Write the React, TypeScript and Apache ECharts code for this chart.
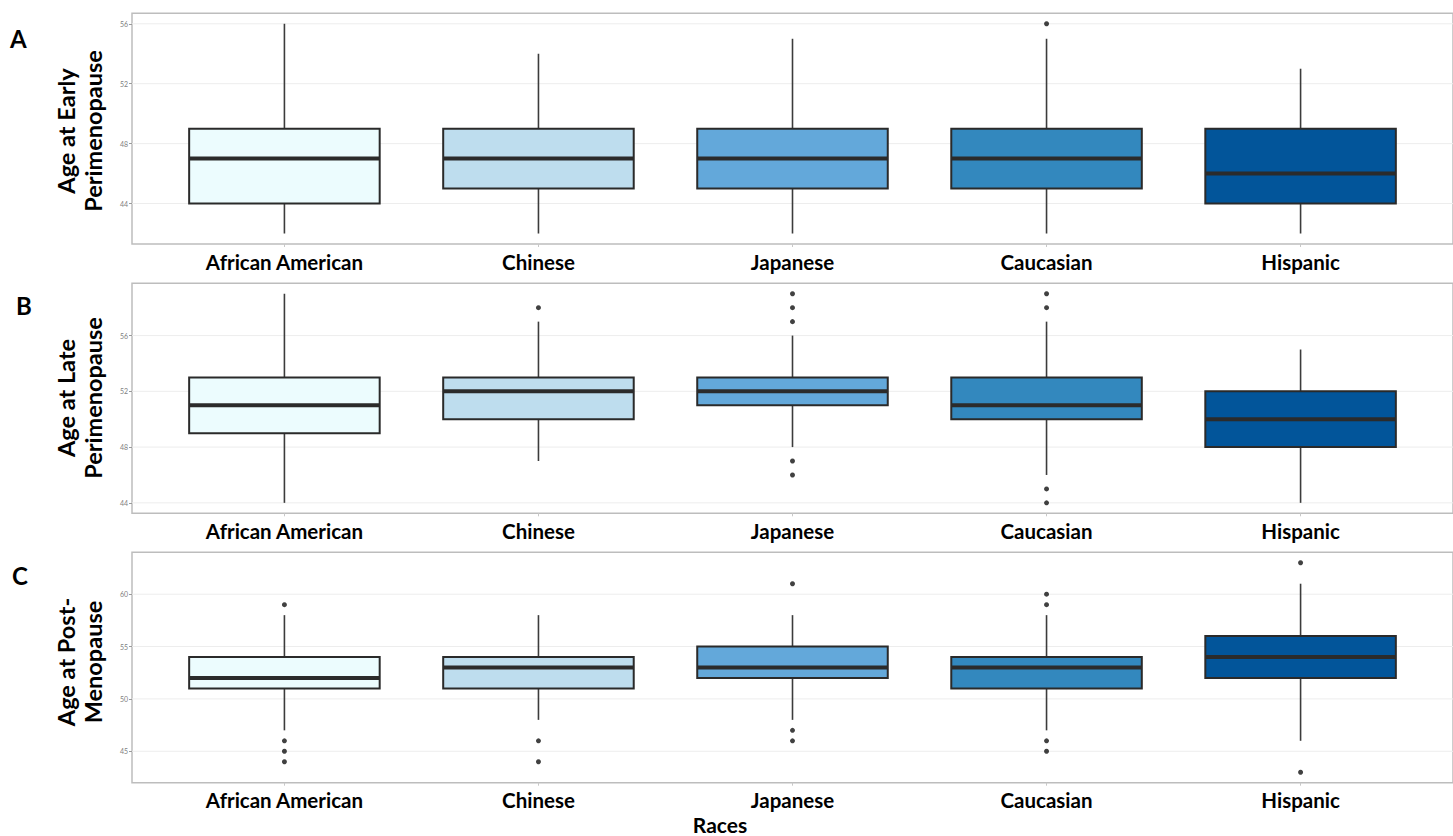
import React, { useEffect, useRef } from "react";
import * as echarts from "echarts";

const races = ["African American", "Chinese", "Japanese", "Caucasian", "Hispanic"];
const boxColors = ["#ECFCFE", "#BEDDEE", "#63A8DA", "#3388BE", "#02559A"];

// each box: [lowerWhisker, q1, median, q3, upperWhisker]
const earlyBoxes = [
  [42, 44, 47, 49, 56],
  [42, 45, 47, 49, 54],
  [42, 45, 47, 49, 55],
  [42, 45, 47, 49, 55],
  [42, 44, 46, 49, 53],
];
// outliers: [raceNumber (1-based), age]
const earlyOutliers = [[4, 56]];

const lateBoxes = [
  [44, 49, 51, 53, 59],
  [47, 50, 52, 53, 57],
  [48, 51, 52, 53, 56],
  [46, 50, 51, 53, 57],
  [44, 48, 50, 52, 55],
];
const lateOutliers = [
  [2, 58],
  [3, 59], [3, 58], [3, 57], [3, 47], [3, 46],
  [4, 59], [4, 58], [4, 45], [4, 44],
];

const postBoxes = [
  [47, 51, 52, 54, 58],
  [48, 51, 53, 54, 58],
  [48, 52, 53, 55, 58],
  [47, 51, 53, 54, 58],
  [46, 52, 54, 56, 61],
];
const postOutliers = [
  [1, 59], [1, 46], [1, 45], [1, 44],
  [2, 46], [2, 44],
  [3, 61], [3, 47], [3, 46],
  [4, 60], [4, 59], [4, 46], [4, 45],
  [5, 63], [5, 43],
];

const earlyTicks = [44, 48, 52, 56];
const lateTicks = [44, 48, 52, 56];
const postTicks = [45, 50, 55, 60];

const yTitles = ["Age at Early\nPerimenopause", "Age at Late\nPerimenopause", "Age at Post-\nMenopause"];
const panelLetters = ["A", "B", "C"];
const xTitle = "Races";

const FONT = 'Lato, "Open Sans", "DejaVu Sans", sans-serif';

const panels = [
  { boxes: earlyBoxes, outliers: earlyOutliers, ticks: earlyTicks, min: 41.3, max: 56.7, top: 13.3, height: 230.7, titleY: 131, letterY: 38, letterX: 10 },
  { boxes: lateBoxes, outliers: lateOutliers, ticks: lateTicks, min: 43.25, max: 59.75, top: 283.3, height: 230, titleY: 398, letterY: 305, letterX: 16 },
  { boxes: postBoxes, outliers: postOutliers, ticks: postTicks, min: 42, max: 64, top: 552.3, height: 230.4, titleY: 662, letterY: 575, letterX: 12 },
];

const GRID_LEFT = 132;
const UNIT = 255.5;

export default function App() {
  const ref = useRef<HTMLDivElement>(null);
  useEffect(() => {
    if (!ref.current) return;
    const chart = echarts.init(ref.current, null, { renderer: "svg" });
    const grids: any[] = [];
    const xAxes: any[] = [];
    const yAxes: any[] = [];
    const series: any[] = [];
    const graphics: any[] = [];
    const catValues = races.map((_, i) => i + 1);

    panels.forEach((p, k) => {
      grids.push({
        left: GRID_LEFT,
        top: p.top,
        width: UNIT * 5.2,
        height: p.height,
        show: true,
        borderColor: "#BDBDBD",
        borderWidth: 1.5,
        backgroundColor: "transparent",
      });
      xAxes.push({
        type: "value",
        gridIndex: k,
        min: 0.4,
        max: 5.6,
        axisLine: { show: false },
        splitLine: { show: false },
        axisTick: { show: true, customValues: catValues, length: 3, lineStyle: { color: "#C8C8C8" } },
        axisLabel: {
          customValues: catValues,
          formatter: (v: number) => races[Math.round(v) - 1] || "",
          fontSize: 20.5,
          fontWeight: "bold",
          color: "#000",
          fontFamily: FONT,
          margin: 7,
        },
      });
      yAxes.push({
        type: "value",
        gridIndex: k,
        min: p.min,
        max: p.max,
        axisLine: { show: false },
        splitLine: { show: false },
        axisTick: { show: true, customValues: p.ticks, length: 3, lineStyle: { color: "#9A9A9A" } },
        axisLabel: { customValues: p.ticks, fontSize: 7, color: "#808080", margin: 4, fontFamily: FONT },
      });
      // horizontal grid lines (under the boxes)
      series.push({
        type: "custom",
        xAxisIndex: k,
        yAxisIndex: k,
        z: 1,
        silent: true,
        encode: { x: 0, y: 1 },
        data: p.ticks.map((t) => [0.4, t]),
        renderItem: (_params: any, api: any) => {
          const a = api.coord([0.4, api.value(1)]);
          const b = api.coord([5.6, api.value(1)]);
          return {
            type: "line",
            shape: { x1: a[0], y1: a[1], x2: b[0], y2: b[1] },
            style: { stroke: "#EDEDED", lineWidth: 1 },
          };
        },
      });
      series.push({
        type: "custom",
        xAxisIndex: k,
        yAxisIndex: k,
        z: 2,
        encode: { x: 0, y: [1, 2, 3, 4, 5] },
        data: p.boxes.map((b, i) => [i + 1, ...b]),
        renderItem: (params: any, api: any) => {
          const x = api.value(0);
          const pLw = api.coord([x, api.value(1)]);
          const pQ1 = api.coord([x, api.value(2)]);
          const pMed = api.coord([x, api.value(3)]);
          const pQ3 = api.coord([x, api.value(4)]);
          const pUw = api.coord([x, api.value(5)]);
          const half = api.size([0.75, 0])[0] / 2;
          const cx = pLw[0];
          const whisker = { stroke: "#3C3C3C", lineWidth: 1.6 };
          return {
            type: "group",
            children: [
              { type: "line", shape: { x1: cx, y1: pUw[1], x2: cx, y2: pQ3[1] }, style: whisker },
              { type: "line", shape: { x1: cx, y1: pQ1[1], x2: cx, y2: pLw[1] }, style: whisker },
              {
                type: "rect",
                shape: { x: cx - half, y: pQ3[1], width: half * 2, height: pQ1[1] - pQ3[1] },
                style: { fill: boxColors[params.dataIndex], stroke: "#2A2A2A", lineWidth: 2 },
              },
              {
                type: "line",
                shape: { x1: cx - half, y1: pMed[1], x2: cx + half, y2: pMed[1] },
                style: { stroke: "#2B2B2B", lineWidth: 4 },
              },
            ],
          };
        },
      });
      series.push({
        type: "scatter",
        xAxisIndex: k,
        yAxisIndex: k,
        z: 3,
        symbolSize: 5,
        itemStyle: { color: "#111" },
        data: p.outliers,
      });

      graphics.push({
        type: "text",
        x: 79,
        y: p.titleY,
        rotation: Math.PI / 2,
        style: {
          text: yTitles[k],
          fontSize: 23.5,
          fontWeight: "bold",
          fontFamily: FONT,
          fill: "#000",
          align: "center",
          verticalAlign: "middle",
          lineHeight: 27,
        },
      });
      graphics.push({
        type: "text",
        x: p.letterX,
        y: p.letterY,
        style: {
          text: panelLetters[k],
          fontSize: 24,
          fontWeight: "bold",
          fontFamily: FONT,
          fill: "#000",
          align: "left",
          verticalAlign: "middle",
        },
      });
    });

    graphics.push({
      type: "text",
      x: 720,
      y: 824,
      style: {
        text: xTitle,
        fontSize: 21,
        fontWeight: "bold",
        fontFamily: FONT,
        fill: "#000",
        align: "center",
        verticalAlign: "middle",
      },
    });

    chart.setOption({
      animation: false,
      backgroundColor: "#fff",
      grid: grids,
      xAxis: xAxes,
      yAxis: yAxes,
      series,
      graphic: graphics,
    });
    return () => chart.dispose();
  }, []);
  return (
    <div
      ref={ref}
      style={{ position: "absolute", left: 0, top: 0, width: 1453, height: 836 }}
    />
  );
}
